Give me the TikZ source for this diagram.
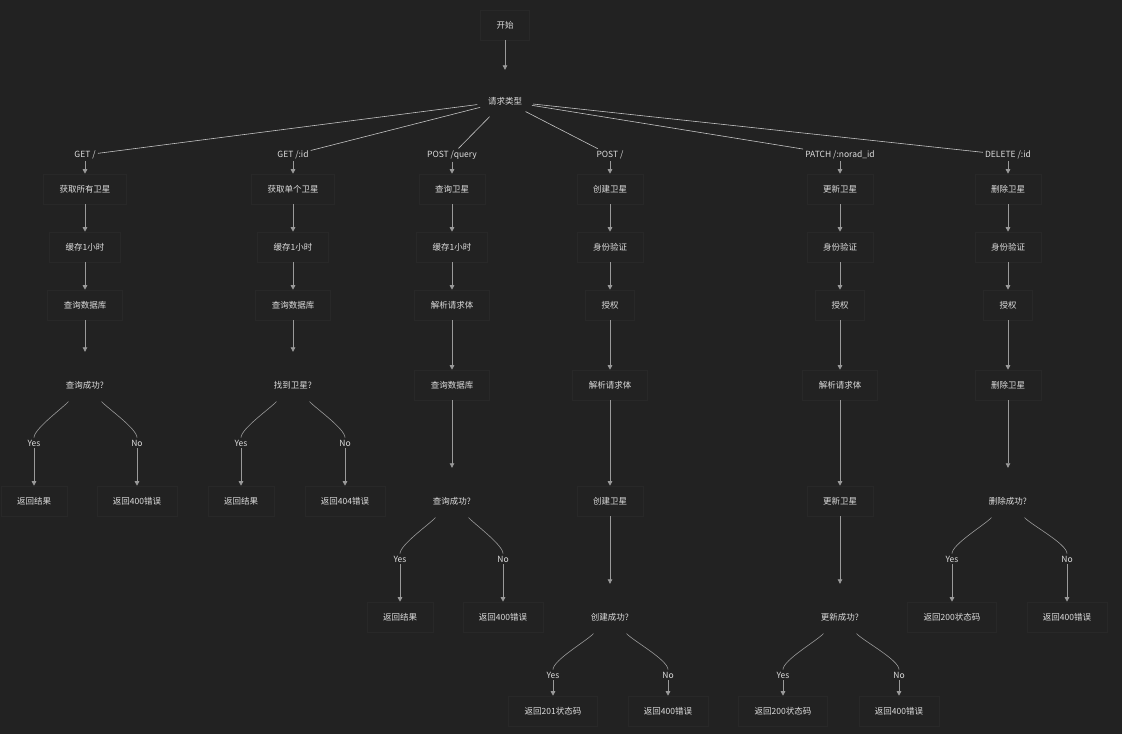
\documentclass[tikz,border=0pt]{standalone}
\usepackage{fontspec}
\setmainfont{Noto Sans CJK SC}
\usetikzlibrary{shapes.geometric, arrows.meta}
\definecolor{bg}{HTML}{222222}
\definecolor{boxline}{HTML}{282828}
\definecolor{txt}{HTML}{DDDDDD}
\definecolor{edge}{HTML}{9A9A9A}
\definecolor{longedge}{HTML}{C4C4C4}
\tikzset{
    box/.style={draw=boxline, fill=bg, line width=0.6pt, inner xsep=16pt, minimum height=30pt}, % process steps
    cond/.style={diamond, aspect=1, inner sep=5pt}, % decisions, outline not shown
    lbl/.style={inner sep=2pt, fill=bg}, % edge labels
    flow/.style={draw=edge, line width=0.7pt, -{Triangle[length=4.5pt,width=4.5pt]}},
    link/.style={draw=longedge, line width=0.6pt},
}

\begin{document}
\begin{tikzpicture}[x=1pt, y=1pt, every node/.style={text=txt, font=\fontsize{8.5}{10}\selectfont}]
  \path[use as bounding box, fill=bg] (0,0) rectangle (1122,-734);

  \node[box] (start) at (505,-25) {开始};
  \node[cond] (req) at (505,-101) {请求类型};
  \draw[flow] (start) -- (req);

  % request types
  \node[lbl] (l1) at (85,-155) {GET /};
  \node[lbl] (l2) at (293,-155) {GET /:id};
  \node[lbl] (l3) at (452,-155) {POST /query};
  \node[lbl] (l4) at (610,-155) {POST /};
  \node[lbl] (l5) at (840,-155) {PATCH /:norad\_id};
  \node[lbl] (l6) at (1008,-155) {DELETE /:id};

  \node[box] (a1) at (85,-189) {获取所有卫星};
  \node[box] (a2) at (293,-189) {获取单个卫星};
  \node[box] (a3) at (452,-189) {查询卫星};
  \node[box] (a4) at (610,-189) {创建卫星};
  \node[box] (a5) at (840,-189) {更新卫星};
  \node[box] (a6) at (1008,-189) {删除卫星};

  \node[box] (b1) at (85,-247) {缓存1小时};
  \node[box] (b2) at (293,-247) {缓存1小时};
  \node[box] (b3) at (452,-247) {缓存1小时};
  \node[box] (b4) at (610,-247) {身份验证};
  \node[box] (b5) at (840,-247) {身份验证};
  \node[box] (b6) at (1008,-247) {身份验证};

  \node[box] (c1) at (85,-305) {查询数据库};
  \node[box] (c2) at (293,-305) {查询数据库};
  \node[box] (c3) at (452,-305) {解析请求体};
  \node[box] (c4) at (610,-305) {授权};
  \node[box] (c5) at (840,-305) {授权};
  \node[box] (c6) at (1008,-305) {授权};

  \node[cond] (d1) at (85,-385) {查询成功?};
  \node[cond] (d2) at (293,-385) {找到卫星?};
  \node[box] (d3) at (452,-385) {查询数据库};
  \node[box] (d4) at (610,-385) {解析请求体};
  \node[box] (d5) at (840,-385) {解析请求体};
  \node[box] (d6) at (1008,-385) {删除卫星};

  \node[cond] (e3) at (452,-501) {查询成功?};
  \node[box] (e4) at (610,-501) {创建卫星};
  \node[box] (e5) at (840,-501) {更新卫星};
  \node[cond] (e6) at (1008,-501) {删除成功?};

  \node[cond] (f4) at (610,-617) {创建成功?};
  \node[cond] (f5) at (840,-617) {更新成功?};

  \foreach \i in {1,...,6} {
    \draw[link] (req) -- (l\i);
    \draw[flow] (l\i) -- (a\i);
    \draw[flow] (a\i) -- (b\i);
    \draw[flow] (b\i) -- (c\i);
    \draw[flow] (c\i) -- (d\i);
  }
  \draw[flow] (d3) -- (e3);
  \draw[flow] (d4) -- (e4);
  \draw[flow] (d5) -- (e5);
  \draw[flow] (d6) -- (e6);
  \draw[flow] (e4) -- (f4);
  \draw[flow] (e5) -- (f5);

  % outcomes
  \node[lbl] (y1) at (34,-443) {Yes};
  \node[lbl] (n1) at (137,-443) {No};
  \node[box] (ok1) at (34,-501) {返回结果};
  \node[box] (err1) at (137,-501) {返回400错误};

  \node[lbl] (y2) at (241,-443) {Yes};
  \node[lbl] (n2) at (345,-443) {No};
  \node[box] (ok2) at (241,-501) {返回结果};
  \node[box] (err2) at (345,-501) {返回404错误};

  \node[lbl] (y3) at (400,-559) {Yes};
  \node[lbl] (n3) at (503,-559) {No};
  \node[box] (ok3) at (400,-617) {返回结果};
  \node[box] (err3) at (503,-617) {返回400错误};

  \node[lbl] (y4) at (553,-675) {Yes};
  \node[lbl] (n4) at (668,-675) {No};
  \node[box] (ok4) at (553,-711) {返回201状态码};
  \node[box] (err4) at (668,-711) {返回400错误};

  \node[lbl] (y5) at (783,-675) {Yes};
  \node[lbl] (n5) at (899,-675) {No};
  \node[box] (ok5) at (783,-711) {返回200状态码};
  \node[box] (err5) at (899,-711) {返回400错误};

  \node[lbl] (y6) at (952,-559) {Yes};
  \node[lbl] (n6) at (1067,-559) {No};
  \node[box] (ok6) at (952,-617) {返回200状态码};
  \node[box] (err6) at (1067,-617) {返回400错误};

  \foreach \d/\i in {d1/1, d2/2, e3/3, f4/4, f5/5, e6/6} {
    \draw[link, draw=edge] (\d.south west) to[out=228, in=90, looseness=0.45] (y\i);
    \draw[link, draw=edge] (\d.south east) to[out=-48, in=90, looseness=0.45] (n\i);
    \draw[flow] (y\i) -- (ok\i);
    \draw[flow] (n\i) -- (err\i);
  }
\end{tikzpicture}
\end{document}
